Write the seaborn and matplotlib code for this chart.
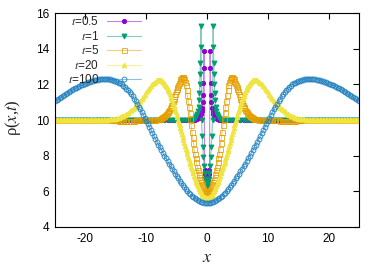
import numpy as np
import seaborn as sns
import matplotlib.pyplot as plt
from matplotlib.colors import to_rgba
from matplotlib.lines import Line2D

# ---- data ----
labels = ['$t$=0.5', '$t$=1', '$t$=5', '$t$=20', '$t$=100']
colors = ['#9400d3', '#009e73', '#e69f00', '#f0e442', '#1f80bf']


def mirror(half):
    # half runs from x=0 outwards, the profiles are symmetric about x=0
    return list(half[:0:-1]) + list(half)


# t=0.5 : narrow spike pair around x=0
x_t05 = np.concatenate([np.arange(-25, -2.4, 0.5),
                        [-2.0, -1.7, -1.4, -1.2, -1.0, -0.9, -0.8, -0.7, -0.65, -0.6, -0.55, -0.5,
                         -0.4, -0.3, -0.2, -0.1, 0.0, 0.1, 0.2, 0.3, 0.4,
                         0.5, 0.55, 0.6, 0.65, 0.7, 0.8, 0.9, 1.0, 1.2, 1.4, 1.7, 2.0],
                        np.arange(2.5, 25.01, 0.5)])
rho_t05 = ([10.0, 10.01, 9.99, 10.0, 10.02, 10.0, 9.99, 10.0, 10.01, 10.0, 9.98, 10.0,
            10.01, 10.0, 9.99, 10.0, 10.02, 10.0, 10.0, 9.99, 10.01, 10.0, 10.0, 9.99,
            10.0, 10.01, 10.0, 9.98, 10.0, 10.0, 10.01, 9.99, 10.0, 10.0, 10.01, 10.0,
            9.99, 10.0, 10.02, 10.0, 10.0, 9.99, 10.0, 10.01, 10.0, 10.01]
           + [10.02, 10.05, 10.1, 10.2, 10.35, 10.5, 10.7, 11.0, 11.4, 12.1, 12.9, 13.9,
              7.2, 6.95, 6.8, 6.65, 6.6, 6.65, 6.8, 6.95, 7.2,
              13.9, 12.9, 12.1, 11.4, 11.0, 10.7, 10.5, 10.35, 10.2, 10.1, 10.05, 10.02]
           + [10.01, 10.0, 9.99, 10.0, 10.01, 10.0, 10.0, 9.98, 10.0, 10.01, 10.0, 9.99,
              10.0, 10.02, 10.0, 10.0, 9.99, 10.01, 10.0, 10.0, 9.99, 10.0, 10.01, 10.0,
              9.98, 10.0, 10.0, 10.01, 9.99, 10.0, 10.0, 10.02, 10.0, 9.99, 10.0, 10.01,
              10.0, 10.0, 9.99, 10.0, 10.01, 10.0, 9.98, 10.0, 10.01, 10.0])

# t=1 : taller spike pair
x_t1 = np.concatenate([np.arange(-25, -2.4, 0.5),
                       [-2.2, -2.0, -1.8, -1.6, -1.5, -1.4, -1.3, -1.25, -1.2, -1.15, -1.1, -1.05, -1.0,
                        -0.9, -0.8, -0.7, -0.6, -0.5, -0.4, -0.3, -0.2, -0.1, 0.0,
                        0.1, 0.2, 0.3, 0.4, 0.5, 0.6, 0.7, 0.8, 0.9,
                        1.0, 1.05, 1.1, 1.15, 1.2, 1.25, 1.3, 1.4, 1.5, 1.6, 1.8, 2.0, 2.2],
                       np.arange(2.5, 25.01, 0.5)])
rho_t1 = ([10.0, 9.99, 10.01, 10.0, 10.0, 9.98, 10.0, 10.01, 10.0, 9.99, 10.0, 10.02,
           10.0, 10.0, 9.99, 10.01, 10.0, 10.0, 9.98, 10.0, 10.01, 10.0, 9.99, 10.0,
           10.0, 10.01, 10.0, 9.99, 10.0, 10.02, 10.0, 9.99, 10.0, 10.01, 10.0, 10.0,
           9.98, 10.0, 10.01, 10.0, 10.0, 9.99, 10.0, 10.01, 10.0, 10.02]
          + [10.05, 10.1, 10.2, 10.35, 10.5, 10.75, 11.1, 11.5, 12.0, 12.6, 13.2, 14.1, 15.25,
             10.0, 9.1, 8.5, 7.95, 7.4, 7.0, 6.7, 6.5, 6.35, 6.3,
             6.35, 6.5, 6.7, 7.0, 7.4, 7.95, 8.5, 9.1, 10.0,
             15.25, 14.1, 13.2, 12.6, 12.0, 11.5, 11.1, 10.75, 10.5, 10.35, 10.2, 10.1, 10.05]
          + [10.02, 10.0, 10.01, 9.99, 10.0, 10.0, 10.01, 9.98, 10.0, 10.0, 10.02, 9.99,
             10.0, 10.01, 10.0, 10.0, 9.99, 10.0, 10.01, 9.98, 10.0, 10.0, 10.01, 10.0,
             9.99, 10.0, 10.02, 10.0, 10.0, 9.99, 10.01, 10.0, 10.0, 9.98, 10.0, 10.01,
             10.0, 9.99, 10.0, 10.0, 10.01, 10.0, 9.99, 10.0, 10.02, 10.0])

# t=5 and t=20 : every 0.125 inside |x|<=8, every 0.25 outside
x_half_mid = np.concatenate([np.arange(0, 8.001, 0.125), np.arange(8.25, 25.001, 0.25)])
x_mid = np.concatenate([-x_half_mid[:0:-1], x_half_mid])

baseline_tail = [10.0, 10.01, 9.99, 10.0, 10.0, 10.01, 10.0, 9.99, 10.0, 10.01, 10.0, 10.0,
                 9.99, 10.0, 10.01, 10.0, 10.0, 9.99, 10.0, 10.01, 10.0, 10.0, 9.99, 10.0,
                 10.0, 10.01, 10.0, 9.99, 10.0, 10.0, 10.01, 10.0, 10.0, 9.99, 10.0, 10.0]

rho_t5_half = ([5.9, 5.91, 5.95, 6.01, 6.08, 6.17, 6.28, 6.39,
                6.52, 6.66, 6.82, 6.99, 7.18, 7.39, 7.62, 7.86,
                8.12, 8.4, 8.7, 9.02, 9.35, 9.7, 10.05, 10.4,
                10.75, 11.08, 11.4, 11.7, 11.95, 12.15, 12.3, 12.37,
                12.4, 12.39, 12.35, 12.28, 12.18, 12.09, 11.98, 11.87,
                11.75, 11.62, 11.48, 11.34, 11.2, 11.07, 10.95, 10.85,
                10.75, 10.66, 10.58, 10.51, 10.45, 10.39, 10.34, 10.29,
                10.25, 10.21, 10.18, 10.15, 10.12, 10.1, 10.08, 10.06,
                10.05]
               + [10.04, 10.02, 10.01, 10.0, 10.01, 10.0, 9.99, 10.0, 10.01, 10.0, 9.99, 10.0,
                  9.99, 9.98, 9.98, 9.97, 9.97, 9.96, 9.96, 9.96, 9.95, 9.95, 9.96, 9.96,
                  9.97, 9.97, 9.98, 9.98, 9.99, 9.99, 10.0, 10.0]
               + baseline_tail)

rho_t20_half = ([5.6, 5.6, 5.62, 5.66, 5.7, 5.75, 5.8, 5.87,
                 5.95, 6.03, 6.12, 6.21, 6.3, 6.41, 6.52, 6.63,
                 6.75, 6.87, 7.0, 7.12, 7.25, 7.38, 7.52, 7.66,
                 7.8, 7.95, 8.1, 8.25, 8.4, 8.56, 8.72, 8.88,
                 9.05, 9.21, 9.38, 9.54, 9.7, 9.85, 10.0, 10.15,
                 10.3, 10.44, 10.58, 10.72, 10.85, 10.98, 11.1, 11.23,
                 11.35, 11.46, 11.56, 11.66, 11.75, 11.84, 11.92, 11.99,
                 12.05, 12.1, 12.15, 12.19, 12.22, 12.24, 12.25, 12.25,
                 12.25]
                + [12.22, 12.15, 12.08, 12.0, 11.9, 11.8, 11.68, 11.55, 11.42, 11.3, 11.19, 11.08,
                   10.98, 10.88, 10.79, 10.7, 10.62, 10.55, 10.48, 10.42, 10.36, 10.3, 10.25, 10.2,
                   10.16, 10.13, 10.1, 10.08, 10.06, 10.05, 10.04, 10.03]
                + baseline_tail)
rho_t5 = mirror(rho_t5_half)
rho_t20 = mirror(rho_t20_half)

# t=100 : broad dip, every 0.25
x_t100 = np.arange(-25, 25.001, 0.25)
rho_t100_half = [5.35, 5.355, 5.37, 5.39, 5.42, 5.46, 5.5, 5.56, 5.62, 5.69,
                 5.76, 5.84, 5.92, 6.02, 6.12, 6.23, 6.35, 6.47, 6.6, 6.72,
                 6.85, 6.98, 7.12, 7.26, 7.4, 7.55, 7.7, 7.85, 8.0, 8.15,
                 8.3, 8.46, 8.62, 8.78, 8.95, 9.11, 9.28, 9.45, 9.62, 9.78,
                 9.95, 10.12, 10.28, 10.44, 10.6, 10.75, 10.9, 11.04, 11.18, 11.32,
                 11.45, 11.56, 11.67, 11.76, 11.85, 11.93, 12.0, 12.05, 12.1, 12.14,
                 12.18, 12.21, 12.24, 12.26, 12.28, 12.29, 12.3, 12.3, 12.3, 12.3,
                 12.3, 12.29, 12.27, 12.25, 12.23, 12.2, 12.17, 12.14, 12.11, 12.08,
                 12.04, 12.0, 11.97, 11.94, 11.9, 11.86, 11.81, 11.77, 11.72, 11.67,
                 11.61, 11.56, 11.5, 11.45, 11.39, 11.33, 11.27, 11.22, 11.16, 11.1,
                 11.05]
rho_t100 = mirror(rho_t100_half)

series = [(x_t05, rho_t05), (x_t1, rho_t1), (x_mid, rho_t5), (x_mid, rho_t20), (x_t100, rho_t100)]
markers = ['o', 'v', 's', '^', 'o']
filled = [True, True, False, True, False]
msizes = [3.0, 3.5, 3.6, 3.3, 3.5]
edge_w = [0.7, 0.7, 0.55, 0.7, 0.6]

sns.set_theme(style='white')
plt.rcParams['font.family'] = ['Liberation Sans', 'DejaVu Sans']
plt.rcParams['mathtext.fontset'] = 'stix'
plt.rcParams['axes.unicode_minus'] = False

fig = plt.figure(figsize=(3.82, 2.67), dpi=100)
ax = fig.add_axes([0.144, 0.150, 0.796, 0.801])

handles = []
for (xs, ys), lab, c, m, f, ms, mew in zip(series, labels, colors, markers, filled, msizes, edge_w):
    assert len(xs) == len(ys), lab
    fc = c if f else 'none'
    # pale connecting line, then the points on top
    sns.lineplot(x=xs, y=ys, ax=ax, color=c, alpha=0.5, linewidth=0.8,
                 sort=False, estimator=None)
    sns.lineplot(x=xs, y=ys, ax=ax, color=c, linestyle='none', marker=m, markersize=ms,
                 markerfacecolor=fc, markeredgecolor=c, markeredgewidth=mew,
                 sort=False, estimator=None)
    handles.append(Line2D([], [], color=to_rgba(c, 0.5), linewidth=0.8, marker=m, markersize=ms,
                          markerfacecolor=fc, markeredgecolor=c, markeredgewidth=mew))

ax.set_xlim(-25, 25)
ax.set_ylim(4, 16)
ax.set_xticks([-20, -10, 0, 10, 20])
ax.set_yticks([4, 6, 8, 10, 12, 14, 16])
ax.tick_params(direction='in', length=4, width=0.8, top=True, right=True,
               labelsize=8.5, pad=4, colors='black')
for s in ax.spines.values():
    s.set_color('black')
    s.set_linewidth(0.8)

ax.set_xlabel('$x$', fontsize=13)
ax.set_ylabel('ρ($x$,$t$)', fontsize=12, family=['Liberation Serif', 'DejaVu Serif'])
ax.xaxis.set_label_coords(0.5, -0.105)
ax.yaxis.set_label_coords(-0.105, 0.51)

ax.legend(handles, labels, loc='upper right', bbox_to_anchor=(0.29, 1.0), frameon=False,
          markerfirst=False, handlelength=2.9, handletextpad=0.65, labelspacing=0.12,
          fontsize=8.5, borderpad=0.2, borderaxespad=0.0, numpoints=1)

fig.savefig('out.png', dpi=100)
